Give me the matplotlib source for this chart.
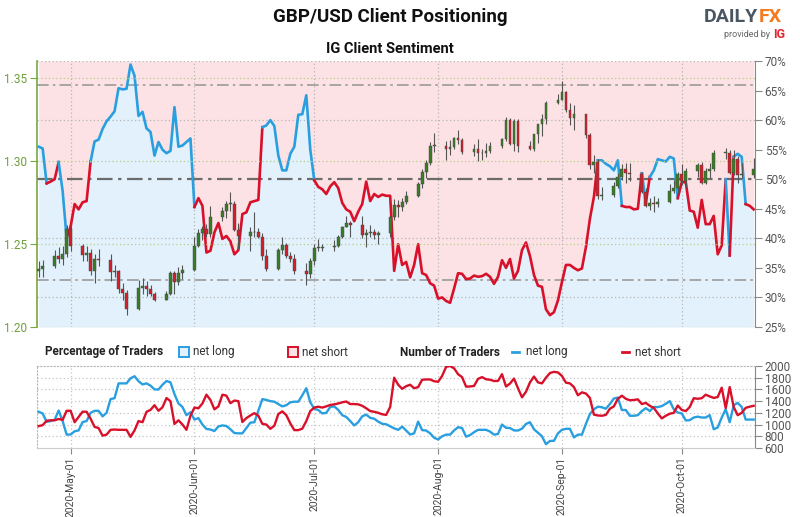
import matplotlib
matplotlib.use("Agg")
import matplotlib.pyplot as plt
import matplotlib.dates as mdates
from matplotlib.patches import Rectangle
from matplotlib.lines import Line2D
import pandas as pd

plt.rcParams['font.family'] = ['Roboto', 'DejaVu Sans']

# GBP/USD daily candles (weekdays 2020-04-23 .. 2020-10-19)
opens = [1.2340, 1.2350,
         1.2370, 1.2425, 1.2410, 1.2440, 1.2590,
         1.2490, 1.2435, 1.2445, 1.2340, 1.2410,
         1.2405, 1.2330, 1.2335, 1.2230, 1.2205,
         1.2110, 1.2235, 1.2245, 1.2230, 1.2200,
         1.2165, 1.2200, 1.2325, 1.2270, 1.2325,
         1.2345, 1.2490, 1.2565, 1.2590, 1.2560,
         1.2665, 1.2700, 1.2740, 1.2740, 1.2585,
         1.2550, 1.2570, 1.2570, 1.2545, 1.2430,
         1.2350, 1.2465, 1.2495, 1.2425, 1.2410,
         1.2335, 1.2320, 1.2400, 1.2475, 1.2475,
         1.2480, 1.2485, 1.2540, 1.2605, 1.2625,
         1.2615, 1.2555, 1.2565, 1.2575, 1.2555,
         1.2565, 1.2665, 1.2735, 1.2720, 1.2755,
         1.2790, 1.2860, 1.2935, 1.2990, 1.3090,
         1.3090, 1.3075, 1.3085, 1.3140, 1.3125,
         1.3055, 1.3075, 1.3050, 1.3045, 1.3060,
         1.3090, 1.3130, 1.3245, 1.3105, 1.3240,
         1.3090, 1.3075, 1.3160, 1.3220, 1.3250,
         1.3350, 1.3370, 1.3415, 1.3305, 1.3260,
         1.3280, 1.3155, 1.2975, 1.2995, 1.2790,
         1.2795, 1.2850, 1.2905, 1.2950, 1.2925,
         1.2920, 1.2815, 1.2730, 1.2745, 1.2740,
         1.2750, 1.2820, 1.2835, 1.2920, 1.2880,
         1.2940, 1.2975, 1.2870, 1.2940, 1.2950,
         1.3050, 1.3050, 1.2930, 1.3010, 1.2915,
         1.2915]
highs = [1.2395, 1.2405,
         1.2465, 1.2480, 1.2485, 1.2615, 1.2645,
         1.2500, 1.2485, 1.2470, 1.2440, 1.2470,
         1.2440, 1.2375, 1.2345, 1.2265, 1.2220,
         1.2285, 1.2295, 1.2275, 1.2250, 1.2210,
         1.2215, 1.2340, 1.2335, 1.2360, 1.2375,
         1.2545, 1.2590, 1.2610, 1.2620, 1.2730,
         1.2725, 1.2760, 1.2813, 1.2760, 1.2625,
         1.2600, 1.2690, 1.2595, 1.2565, 1.2470,
         1.2475, 1.2540, 1.2505, 1.2450, 1.2440,
         1.2385, 1.2415, 1.2500, 1.2530, 1.2500,
         1.2525, 1.2555, 1.2610, 1.2670, 1.2640,
         1.2670, 1.2590, 1.2615, 1.2590, 1.2580,
         1.2670, 1.2770, 1.2765, 1.2775, 1.2820,
         1.2875, 1.2950, 1.3005, 1.3115, 1.3170,
         1.3120, 1.3125, 1.3145, 1.3185, 1.3140,
         1.3105, 1.3135, 1.3070, 1.3110, 1.3115,
         1.3140, 1.3265, 1.3260, 1.3250, 1.3250,
         1.3120, 1.3165, 1.3225, 1.3285, 1.3360,
         1.3405, 1.3482, 1.3420, 1.3350, 1.3335,
         1.3285, 1.3170, 1.3035, 1.3010, 1.2845,
         1.2875, 1.2925, 1.2980, 1.2990, 1.2985,
         1.2935, 1.2835, 1.2775, 1.2790, 1.2775,
         1.2860, 1.2885, 1.2935, 1.2980, 1.2960,
         1.2990, 1.2995, 1.2960, 1.2985, 1.3065,
         1.3080, 1.3065, 1.3065, 1.3030, 1.2990,
         1.3020]
lows = [1.2300, 1.2300,
        1.2355, 1.2385, 1.2375, 1.2420, 1.2455,
        1.2400, 1.2400, 1.2315, 1.2265, 1.2370,
        1.2275, 1.2300, 1.2205, 1.2165, 1.2075,
        1.2100, 1.2200, 1.2185, 1.2185, 1.2155,
        1.2160, 1.2190, 1.2200, 1.2250, 1.2290,
        1.2335, 1.2480, 1.2525, 1.2545, 1.2545,
        1.2640, 1.2655, 1.2700, 1.2580, 1.2470,
        1.2460, 1.2545, 1.2535, 1.2405, 1.2335,
        1.2345, 1.2440, 1.2415, 1.2390, 1.2320,
        1.2250, 1.2295, 1.2375, 1.2455, 1.2455,
        1.2460, 1.2480, 1.2535, 1.2600, 1.2540,
        1.2535, 1.2480, 1.2545, 1.2530, 1.2500,
        1.2545, 1.2645, 1.2665, 1.2700, 1.2740,
        1.2780, 1.2840, 1.2900, 1.2975, 1.3055,
        1.3005, 1.3035, 1.3075, 1.3100, 1.3040,
        1.3030, 1.3000, 1.3005, 1.3025, 1.3050,
        1.3080, 1.3120, 1.3095, 1.3060, 1.3055,
        1.3065, 1.3060, 1.3110, 1.3150, 1.3225,
        1.3345, 1.3365, 1.3295, 1.3215, 1.3185,
        1.3140, 1.2950, 1.2930, 1.2770, 1.2765,
        1.2785, 1.2840, 1.2885, 1.2865, 1.2880,
        1.2805, 1.2720, 1.2705, 1.2690, 1.2720,
        1.2745, 1.2805, 1.2810, 1.2855, 1.2845,
        1.2905, 1.2860, 1.2860, 1.2900, 1.2940,
        1.3010, 1.2920, 1.2915, 1.2865, 1.2900,
        1.2900]
closes = [1.2350, 1.2370,
          1.2425, 1.2410, 1.2440, 1.2590, 1.2490,
          1.2435, 1.2445, 1.2340, 1.2410, 1.2405,
          1.2330, 1.2335, 1.2230, 1.2205, 1.2110,
          1.2235, 1.2245, 1.2230, 1.2200, 1.2165,
          1.2200, 1.2325, 1.2270, 1.2325, 1.2345,
          1.2490, 1.2565, 1.2590, 1.2560, 1.2665,
          1.2700, 1.2740, 1.2745, 1.2585, 1.2550,
          1.2570, 1.2575, 1.2545, 1.2430, 1.2350,
          1.2465, 1.2495, 1.2425, 1.2410, 1.2335,
          1.2320, 1.2400, 1.2475, 1.2480, 1.2480,
          1.2485, 1.2540, 1.2605, 1.2625, 1.2615,
          1.2555, 1.2565, 1.2575, 1.2555, 1.2565,
          1.2665, 1.2735, 1.2720, 1.2755, 1.2790,
          1.2860, 1.2935, 1.2990, 1.3090, 1.3095,
          1.3075, 1.3085, 1.3140, 1.3125, 1.3055,
          1.3075, 1.3050, 1.3045, 1.3060, 1.3090,
          1.3130, 1.3245, 1.3105, 1.3240, 1.3090,
          1.3075, 1.3160, 1.3220, 1.3250, 1.3350,
          1.3370, 1.3415, 1.3305, 1.3260, 1.3280,
          1.3155, 1.2975, 1.2995, 1.2790, 1.2795,
          1.2850, 1.2905, 1.2950, 1.2925, 1.2920,
          1.2815, 1.2730, 1.2745, 1.2740, 1.2750,
          1.2820, 1.2835, 1.2920, 1.2880, 1.2940,
          1.2975, 1.2870, 1.2940, 1.2950, 1.3050,
          1.3050, 1.2930, 1.3010, 1.2915, 1.2915,
          1.2950]

# daily IG client sentiment, % net long (2020-04-23 .. 2020-10-19)
long_pct = [55.5, 55.2, 49.3, 49.6, 50.0, 52.9, 48.0, 40.1, 42.0, 45.8,
            44.9, 46.1, 46.3, 53.0, 56.4, 56.7, 58.5, 59.8, 60.6, 61.5,
            65.4, 65.2, 65.3, 69.4, 67.5, 60.7, 61.4, 58.6, 58.0, 54.0,
            56.3, 55.0, 54.4, 54.8, 62.2, 55.5, 55.7, 56.3, 56.9, 45.3,
            46.8, 45.5, 37.6, 37.9, 41.0, 42.6, 39.9, 40.4, 39.5, 37.3,
            38.0, 44.1, 44.4, 46.1, 46.3, 46.5, 58.8, 59.1, 60.0, 59.0,
            54.0, 51.5, 51.5, 54.3, 55.5, 60.9, 61.0, 64.2, 55.0, 49.8,
            48.7, 48.3, 47.5, 48.8, 49.5, 48.5, 46.0, 44.9, 44.5, 42.9,
            44.5, 45.8, 49.6, 46.3, 47.5, 47.0, 47.4, 47.2, 47.2, 34.5,
            39.0, 35.5, 36.0, 33.4, 35.5, 39.0, 34.1, 33.8, 32.4, 32.0,
            29.8, 30.0, 29.4, 29.1, 31.5, 34.1, 34.0, 33.1, 33.2, 33.7,
            33.5, 33.6, 34.0, 33.5, 32.3, 33.5, 36.3, 35.0, 36.5, 33.2,
            34.5, 38.0, 39.3, 37.0, 33.8, 32.0, 31.8, 28.0, 27.0, 27.5,
            29.5, 32.6, 35.5, 35.5, 35.0, 34.6, 34.9, 38.5, 43.3, 47.0,
            53.2, 53.2, 52.6, 52.2, 51.5, 53.2, 45.5, 45.3, 45.3, 44.9,
            45.0, 51.0, 46.0, 50.4, 51.5, 53.4, 53.2, 53.0, 53.8, 53.5,
            46.8, 49.5, 49.5, 44.7, 44.5, 41.8, 46.5, 42.4, 42.4, 43.8,
            37.3, 38.8, 50.0, 37.1, 53.8, 54.3, 53.8, 45.8, 45.5, 44.9]
# colour runs of the sentiment line (side, number of points)
side_runs = [("long", 3), ("short", 3), ("long", 2), ("short", 6), ("long", 26),
             ("short", 17), ("long", 13), ("short", 71), ("long", 6), ("short", 5),
             ("long", 1), ("short", 1), ("long", 7), ("short", 12), ("long", 1),
             ("short", 1), ("long", 3), ("short", 2)]

# number of traders
long_count = [1218, 1190, 1045, 1060, 1080, 1240, 1060, 828, 830, 885,
              900, 1043, 1060, 1200, 1235, 1235, 1140, 1200, 1435, 1450,
              1703, 1703, 1703, 1790, 1825, 1740, 1685, 1703, 1665, 1600,
              1598, 1680, 1743, 1720, 1520, 1360, 1300, 1160, 1210, 1085,
              1110, 1000, 925, 915, 890, 968, 985, 975, 920, 855,
              850, 850, 940, 1032, 1040, 1240, 1435, 1420, 1400, 1390,
              1350, 1310, 1330, 1380, 1390, 1390, 1500, 1620, 1380, 1270,
              1248, 1190, 1200, 1300, 1310, 1250, 1160, 1130, 1060, 985,
              1040, 1140, 1170, 1115, 1100, 1050, 1013, 1005, 970, 935,
              910, 965, 898, 830, 850, 1050, 905, 898, 850, 775,
              745, 800, 828, 828, 900, 955, 940, 793, 820, 870,
              910, 910, 910, 880, 828, 840, 1000, 945, 940, 900,
              898, 930, 1010, 1040, 920, 860, 800, 665, 720, 723,
              850, 910, 927, 927, 780, 828, 828, 1010, 1180, 1260,
              1305, 1295, 1270, 1350, 1445, 1460, 1248, 1248, 1150, 1150,
              1160, 1230, 1280, 1230, 1300, 1298, 1315, 1355, 1400, 1260,
              1205, 1190, 1070, 1075, 1120, 1135, 1120, 1120, 1160, 920,
              950, 1120, 1260, 1040, 1330, 1370, 1300, 1085, 1085, 1085]
short_count = [973, 990, 1065, 1073, 1073, 1095, 1080, 1235, 1235, 1040,
               1130, 1220, 1218, 1100, 960, 940, 810, 828, 910, 915,
               910, 910, 910, 790, 900, 1060, 1040, 1218, 1250, 1330,
               1235, 1295, 1452, 1400, 1010, 1073, 1000, 910, 1150, 1290,
               1278, 1360, 1510, 1420, 1260, 1310, 1510, 1493, 1365, 1410,
               1400, 1043, 1110, 1155, 1195, 1150, 1012, 1000, 927, 980,
               1180, 1225, 1160, 1020, 905, 905, 930, 1060, 1230, 1290,
               1305, 1290, 1310, 1335, 1345, 1360, 1380, 1393, 1350, 1350,
               1345, 1320, 1278, 1230, 1218, 1200, 1175, 1165, 1300, 1800,
               1680, 1610, 1655, 1680, 1620, 1640, 1765, 1770, 1770, 1740,
               1730, 1830, 1985, 2000, 1960, 1860, 1810, 1648, 1650, 1660,
               1780, 1810, 1773, 1765, 1743, 1745, 1860, 1650, 1700, 1785,
               1620, 1465, 1560, 1720, 1820, 1720, 1703, 1800, 1880, 1900,
               1890, 1830, 1715, 1703, 1640, 1500, 1550, 1530, 1455, 1170,
               1155, 1150, 1165, 1270, 1310, 1440, 1493, 1440, 1415, 1420,
               1430, 1350, 1370, 1320, 1285, 1190, 1105, 1150, 1185, 1200,
               1325, 1250, 1230, 1300, 1450, 1440, 1450, 1510, 1480, 1455,
               1470, 1630, 1280, 1640, 1300, 1160, 1200, 1285, 1305, 1320]

candle_days = pd.bdate_range("2020-04-23", "2020-10-19")
sent_days = pd.date_range("2020-04-23", periods=len(long_pct), freq="D")
month_starts = pd.date_range("2020-05-01", "2020-10-01", freq="MS")
x_lo = pd.Timestamp("2020-04-22 14:00")
x_hi = pd.Timestamp("2020-10-19 08:00")

BLUE = "#2a9fe0"
RED = "#d9102a"
GREEN_AX = "#78a842"

fig = plt.figure(figsize=(8, 5.17), dpi=100)

# ---- main panel: sentiment (right axis) ----
ax = fig.add_axes([0.04625, 0.3675, 0.8975, 0.5145])
ax.fill_between(sent_days, 25, long_pct, color="#e2f1fb", lw=0)
ax.fill_between(sent_days, long_pct, 70, color="#fde2e5", lw=0)
for p in [30, 40, 60, 70]:
    ax.axhline(p, color="#b5b5b5", lw=0.9, ls=(0, (1, 2)), zorder=1)
for m in month_starts:
    ax.axvline(m, color="#b5b5b5", lw=0.9, ls=(0, (1, 2)), zorder=1)
ax.axhline(50, color="#6b6b6b", lw=1.6, ls=(0, (7, 2.5, 1.5, 2.5)), zorder=2)
for p in [33, 66]:
    ax.axhline(p, color="#9a9a9a", lw=1.2, ls=(0, (7, 2.5, 1.5, 2.5)), zorder=2)

start = 0
for side, n in side_runs:
    a = max(start - 1, 0)
    b = start + n
    ax.plot(sent_days[a:b], long_pct[a:b], color=BLUE if side == "long" else RED,
            lw=1.9, solid_joinstyle="round", zorder=3)
    start += n

ax.set_ylim(25, 70)
ax.set_xlim(x_lo, x_hi)
ax.set_xticks([])

# ---- main panel: price candles (left axis) ----
axp = ax.twinx()
for d, o, h, l, c in zip(candle_days, opens, highs, lows, closes):
    col = "#3a7d27" if c >= o else "#d3202c"
    axp.vlines(d, l, h, color="#555555", lw=0.8, zorder=3)
    axp.bar(d, c - o if c != o else 0.0004, bottom=o, width=0.7,
            color=col, edgecolor="#444444", lw=0.3, zorder=4)
for p in [1.20, 1.25, 1.30, 1.35]:
    axp.axhline(p, color="#b8cc8c", lw=0.9, ls=(0, (1, 2)), zorder=1)
axp.set_ylim(1.20, 1.3602)
axp.set_xlim(x_lo, x_hi)

# tick sides (after twinx, which moves them)
ax.yaxis.set_ticks_position("right")
ax.yaxis.set_label_position("right")
ax.set_yticks(range(25, 71, 5))
ax.set_yticklabels([f"{p}%" for p in range(25, 71, 5)], fontsize=8.5, color="#555555")
ax.tick_params(axis="y", length=5, color="#888888", pad=2)
for s in ["top", "bottom", "left"]:
    ax.spines[s].set_visible(False)
ax.spines["right"].set_color("#888888")

axp.yaxis.set_ticks_position("left")
axp.yaxis.set_label_position("left")
axp.set_yticks([1.20, 1.25, 1.30, 1.35])
axp.set_yticklabels(["1.20", "1.25", "1.30", "1.35"], fontsize=8.5, color="#6f9e3a")
axp.tick_params(axis="y", length=5, color=GREEN_AX, pad=2)
for s in ["top", "bottom", "right"]:
    axp.spines[s].set_visible(False)
axp.spines["left"].set_color(GREEN_AX)
axp.spines["left"].set_linewidth(1.2)

# ---- lower panel: number of traders ----
axb = fig.add_axes([0.04625, 0.1335, 0.8975, 0.1586])
for v in range(800, 2000, 200):
    axb.axhline(v, color="#c4c4c4", lw=0.9, ls=(0, (1, 2)), zorder=1)
for m in month_starts:
    axb.axvline(m, color="#c4c4c4", lw=0.9, ls=(0, (1, 2)), zorder=1)
axb.plot(sent_days, long_count, color=BLUE, lw=1.7, zorder=3)
axb.plot(sent_days, short_count, color=RED, lw=1.7, zorder=3)
axb.set_ylim(600, 2000)
axb.set_xlim(x_lo, x_hi)
axb.yaxis.tick_right()
axb.set_yticks(range(600, 2001, 200))
axb.set_yticklabels([str(v) for v in range(600, 2001, 200)], fontsize=8.5, color="#555555")
axb.tick_params(axis="y", length=5, color="#888888", pad=2)
axb.set_xticks(month_starts)
axb.xaxis.set_major_formatter(mdates.DateFormatter("%Y-%b-%d"))
axb.tick_params(axis="x", length=4, color="#888888", labelsize=7.5,
                labelcolor="#444444", labelrotation=90, pad=2)
axb.spines["top"].set_linestyle((0, (1, 2)))
axb.spines["top"].set_color("#b5b5b5")
axb.spines["left"].set_linestyle((0, (1, 2)))
axb.spines["left"].set_color("#b5b5b5")
axb.spines["bottom"].set_color("#cccccc")
axb.spines["right"].set_color("#888888")

# ---- legend row ----
ly = 1 - 352 / 517
fig.text(0.056, ly, "Percentage of Traders", fontsize=8.5, fontweight="bold",
         va="center", color="#222222")
fig.patches.append(Rectangle((0.224, ly - 0.0095), 0.0125, 0.019, transform=fig.transFigure,
                             facecolor="#e2f1fb", edgecolor=BLUE, lw=1.4))
fig.text(0.241, ly, "net long", fontsize=8.5, va="center", color="#333333")
fig.patches.append(Rectangle((0.36, ly - 0.0095), 0.0125, 0.019, transform=fig.transFigure,
                             facecolor="#fde2e5", edgecolor=RED, lw=1.4))
fig.text(0.377, ly, "net short", fontsize=8.5, va="center", color="#333333")
fig.text(0.5, ly, "Number of Traders", fontsize=8.5, fontweight="bold",
         va="center", color="#222222")
fig.lines.append(Line2D([0.64, 0.649], [ly, ly], transform=fig.transFigure, color=BLUE, lw=2))
fig.text(0.657, ly, "net long", fontsize=8.5, va="center", color="#333333")
fig.lines.append(Line2D([0.777, 0.786], [ly, ly], transform=fig.transFigure, color=RED, lw=2))
fig.text(0.794, ly, "net short", fontsize=8.5, va="center", color="#333333")

# ---- titles and logo ----
fig.text(0.4875, 0.967, "GBP/USD Client Positioning", fontsize=13.5, fontweight="bold",
         ha="center", va="center", color="#111111")
fig.text(0.4875, 0.905, "IG Client Sentiment", fontsize=10.5, fontweight="bold",
         ha="center", va="center", color="#111111")
fig.text(0.947, 0.968, "DAILY", fontsize=14, fontweight="bold", ha="right", va="center",
         color="#4b5663")
fig.text(0.948, 0.968, "FX", fontsize=14, fontweight="bold", ha="left", va="center",
         color="#f47b20")
fig.text(0.963, 0.934, "provided by", fontsize=6.5, ha="right", va="center", color="#666666")
fig.text(0.967, 0.934, "IG", fontsize=9, fontweight="bold", ha="left", va="center",
         color="#e3262f")

fig.savefig("out.png", dpi=100, facecolor="white")
